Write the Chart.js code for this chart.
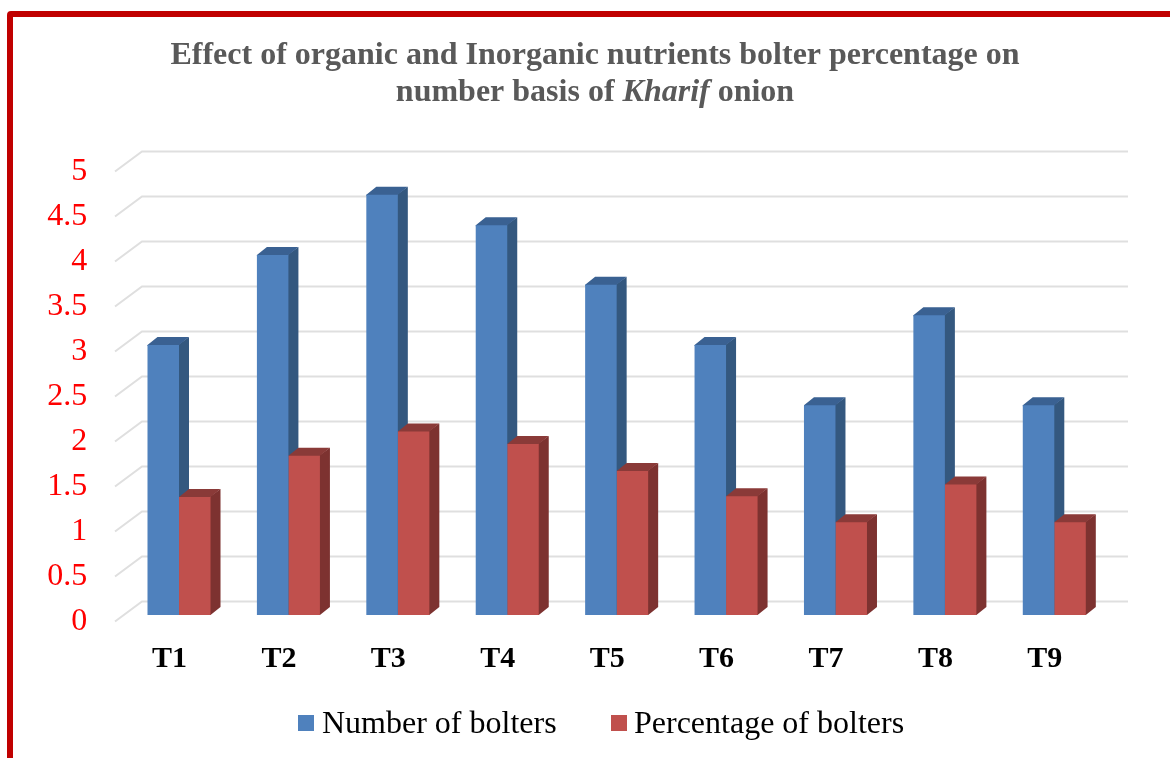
<!DOCTYPE html>
<html><head><meta charset="utf-8">
<style>
html,body{margin:0;padding:0;background:#fff;width:1170px;height:758px;overflow:hidden}
#frame{position:absolute;left:7px;top:11px;width:2000px;height:2000px;border:6px solid #c00000;border-radius:4px;box-sizing:border-box;filter:blur(.4px)}
#wrap{position:absolute;left:0;top:0;width:1170px;height:758px}
canvas{filter:blur(.5px)}
</style>
<script src="https://cdn.jsdelivr.net/npm/chart.js@4"></script>
</head><body>
<div id="frame"></div>
<div id="wrap"><canvas id="c" width="1170" height="758"></canvas></div>
<script>
const categories=['T1','T2','T3','T4','T5','T6','T7','T8','T9'];
const numberOfBolters=[3,4,4.67,4.33,3.67,3,2.33,3.33,2.33];
const percentageOfBolters=[1.31,1.77,2.04,1.9,1.6,1.32,1.03,1.45,1.03];
const seriesNames=['Number of bolters','Percentage of bolters'];
const titleLines=[[['Effect of organic and Inorganic nutrients bolter percentage on','bold']],
                  [['number basis of ','bold'],['Kharif','italic bold'],[' onion','bold']]];
const SERIF='"Liberation Serif","Times New Roman",serif';
const depth={dx:10,dy:8};
const faces=[{side:'#34587f',top:'#3a6192'},{side:'#7d3230',top:'#8a3a38'}];

const wall={
  id:'wall',
  beforeDatasetsDraw(chart){
    const {ctx,scales:{y}}=chart;
    ctx.save();ctx.strokeStyle='#dfdfdf';ctx.lineWidth=2;
    y.ticks.forEach(t=>{
      const p=y.getPixelForValue(t.value);
      ctx.beginPath();
      ctx.moveTo(115,p+6.5);ctx.lineTo(142,p-13.5);ctx.lineTo(1128,p-13.5);
      ctx.stroke();
    });
    [0,1].forEach(i=>{
      const f=faces[i];
      chart.getDatasetMeta(i).data.forEach(b=>{
        const l=b.x-b.width/2,r=b.x+b.width/2,t=b.y,bt=b.base;
        ctx.fillStyle=f.side;
        ctx.beginPath();ctx.moveTo(r-1,t);ctx.lineTo(r+depth.dx,t-depth.dy);ctx.lineTo(r+depth.dx,bt-depth.dy);ctx.lineTo(r,bt);ctx.lineTo(r-1,bt);ctx.closePath();ctx.fill();
        ctx.fillStyle=f.top;
        ctx.beginPath();ctx.moveTo(l,t+1);ctx.lineTo(l,t);ctx.lineTo(l+depth.dx,t-depth.dy);ctx.lineTo(r+depth.dx,t-depth.dy);ctx.lineTo(r,t);ctx.lineTo(r,t+1);ctx.closePath();ctx.fill();
      });
    });
    ctx.restore();
  },
  afterDraw(chart){
    const {ctx}=chart;
    ctx.save();
    ctx.textBaseline='alphabetic';ctx.fillStyle='#595959';ctx.textAlign='left';
    titleLines.forEach((runs,i)=>{
      let w=0;
      runs.forEach(r=>{ctx.font=r[1]+' 32px '+SERIF;w+=ctx.measureText(r[0]).width;});
      let x=595-w/2;
      runs.forEach(r=>{ctx.font=r[1]+' 32px '+SERIF;ctx.fillText(r[0],x,64+i*37);x+=ctx.measureText(r[0]).width;});
    });
    const items=[[298,322],[611,634]];
    ctx.font='32px '+SERIF;ctx.textBaseline='middle';
    chart.data.datasets.forEach((d,i)=>{
      ctx.fillStyle=d.backgroundColor;ctx.fillRect(items[i][0],715,16,16);
      ctx.fillStyle='#000';ctx.fillText(d.label,items[i][1],725);
    });
    ctx.restore();
  }
};

new Chart(document.getElementById('c'),{
  type:'bar',
  data:{labels:categories,datasets:[
    {label:seriesNames[0],data:numberOfBolters,backgroundColor:'#4f81bd',categoryPercentage:0.576,barPercentage:1},
    {label:seriesNames[1],data:percentageOfBolters,backgroundColor:'#c0504d',categoryPercentage:0.576,barPercentage:1}
  ]},
  plugins:[wall],
  options:{
    responsive:false,animation:false,
    layout:{padding:{top:165,left:0,right:61,bottom:0}},
    plugins:{legend:{display:false},title:{display:false},tooltip:{enabled:false}},
    scales:{
      x:{
        grid:{display:false,drawTicks:false},border:{display:false},
        afterFit(s){s.height=143;},
        ticks:{color:'#000',font:{family:SERIF,size:30,weight:'bold'},padding:26,labelOffset:-9.5,maxRotation:0}
      },
      y:{
        min:0,max:5,
        grid:{display:false,drawTicks:false},border:{display:false},
        afterFit(s){s.width=124.3;},
        ticks:{stepSize:0.5,color:'#ff0000',font:{family:SERIF,size:32},padding:37,labelOffset:7,
          callback:v=>String(v)}
      }
    }
  }
});
</script>
</body></html>
